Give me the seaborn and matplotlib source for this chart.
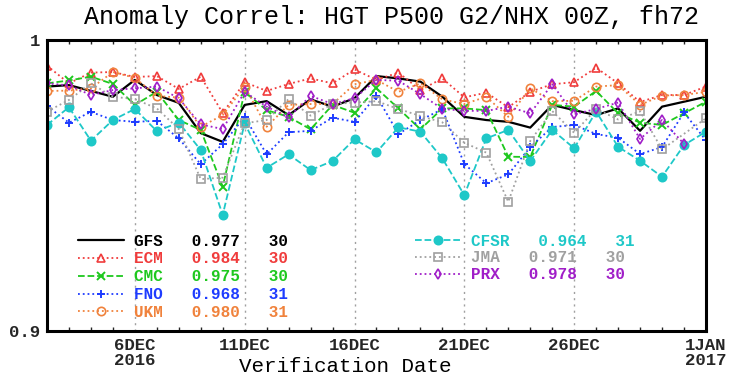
import pandas as pd
import numpy as np
import seaborn as sns
import matplotlib.pyplot as plt
import matplotlib.dates as mdates

nan = np.nan

# verification dates (daily, 00Z)
dates = pd.date_range("2016-12-02", "2017-01-01", freq="D")

gfs = [0.9840, 0.9845, 0.9825, 0.9805, 0.9863, 0.9811, 0.9784, 0.9680, 0.9650, 0.9777,
       0.9790, 0.9742, 0.9796, 0.9771, 0.9800, 0.9876, 0.9868, 0.9857, 0.9805, 0.9736,
       0.9725, 0.9719, 0.9699, 0.9777, 0.9759, 0.9742, 0.9765, 0.9688, 0.9771, 0.9788,
       0.9805]
ecm = [0.9912, 0.9851, 0.9888, 0.9890, 0.9873, 0.9876, 0.9832, 0.9874, 0.9749, 0.9855,
       0.9825, 0.9849, 0.9868, 0.9851, 0.9899, 0.9863, 0.9888, 0.9828, 0.9868, 0.9803,
       0.9819, 0.9769, 0.9822, 0.9848, 0.9855, 0.9905, 0.9851, 0.9787, 0.9811, 0.9811,
       0.9840]
cmc = [0.9851, 0.9861, 0.9874, 0.9849, 0.9777, 0.9822, 0.9725, 0.9691, 0.9496, 0.9822,
       0.9759, 0.9736, 0.9693, 0.9777, 0.9750, 0.9834, 0.9765, 0.9693, 0.9765, 0.9765,
       0.9759, 0.9599, 0.9598, 0.9777, 0.9771, 0.9825, 0.9748, 0.9716, 0.9708, 0.9748,
       0.9788]
fno = [0.9773, 0.9716, 0.9753, 0.9725, 0.9719, 0.9722, 0.9662, 0.9573, 0.9642, 0.9736,
       0.9607, 0.9683, 0.9688, 0.9733, 0.9719, 0.9808, 0.9677, 0.9725, 0.9762, 0.9574,
       0.9508, 0.9538, 0.9632, 0.9701, 0.9708, 0.9677, 0.9664, 0.9608, 0.9632, 0.9751,
       0.9655]
ukm = [0.9825, 0.9826, 0.9834, 0.9890, 0.9870, 0.9808, 0.9802, 0.9702, 0.9742, 0.9840,
       0.9702, 0.9777, 0.9780, 0.9780, 0.9848, 0.9863, 0.9822, 0.9851, 0.9796, 0.9780,
       0.9805, 0.9736, 0.9834, 0.9790, 0.9791, 0.9840, 0.9845, 0.9777, 0.9809, 0.9811,
       0.9822]
cfsr = [0.9708, 0.9769, 0.9654, 0.9725, 0.9763, 0.9687, 0.9716, 0.9622, 0.9399, 0.9714,
        0.9561, 0.9607, 0.9553, 0.9584, 0.9659, 0.9614, 0.9700, 0.9685, 0.9593, 0.9467,
        0.9662, 0.9691, 0.9584, 0.9691, 0.9628, 0.9754, 0.9633, 0.9585, 0.9530, 0.9639,
        0.9685]
jma = [0.9754, 0.9794, 0.9851, 0.9805, 0.9797, 0.9765, 0.9694, 0.9522, 0.9527, 0.9714,
       0.9725, 0.9797, 0.9740, 0.9780, 0.9785, 0.9790, 0.9763, 0.9739, 0.9717, 0.9647,
       0.9613, 0.9444, 0.9653, 0.9756, 0.9681, 0.9763, 0.9727, 0.9755, 0.9624, nan,
       0.9731]
prx = [0.9851, 0.9844, 0.9811, 0.9828, 0.9834, 0.9840, 0.9800, 0.9710, 0.9694, 0.9822,
       0.9771, 0.9734, 0.9808, 0.9780, 0.9800, 0.9863, 0.9860, 0.9814, 0.9763, 0.9757,
       0.9756, 0.9771, 0.9748, 0.9848, 0.9745, 0.9763, 0.9785, 0.9660, 0.9725, 0.9643,
       nan]

# legend table: name, mean score, number of cases
names = ["GFS", "ECM", "CMC", "FNO", "UKM", "CFSR", "JMA", "PRX"]
means = ["0.977", "0.984", "0.975", "0.968", "0.980", "0.964", "0.971", "0.978"]
counts = ["30", "30", "30", "31", "31", "31", "30", "30"]

tick_dates = pd.to_datetime(["2016-12-06", "2016-12-11", "2016-12-16",
                             "2016-12-21", "2016-12-26", "2017-01-01"])
tick_labels = ["6DEC\n2016", "11DEC", "16DEC", "21DEC", "26DEC", "1JAN\n2017"]

series = [gfs, ecm, cmc, fno, ukm, cfsr, jma, prx]
colors = ["black", "#f03c3c", "#1ec81e", "#1e3cff", "#f0823c", "#1ec8c8", "#a0a0a0", "#a01ec8"]
markers = [None, "^", "x", "+", "o", "o", "s", "d"]
lstyles = ["-", ":", "--", ":", ":", "--", ":", ":"]
filled = [False, False, False, False, False, True, False, False]

sns.set_style("white")
plt.rcParams["font.family"] = ["Liberation Mono", "DejaVu Sans Mono"]

fig = plt.figure(figsize=(7.48, 3.75), dpi=100)
ax = fig.add_axes([0.0628, 0.1173, 0.881, 0.776])

for name, vals, col, mk, ls, fl in zip(names, series, colors, markers, lstyles, filled):
    df = pd.DataFrame({"date": dates, "acc": vals})
    kw = dict(color=col, linestyle=ls, ax=ax, label=name)
    if name == "GFS":
        kw["linewidth"] = 1.6
    else:
        kw["linewidth"] = 1.3
        kw["marker"] = mk
        kw["markersize"] = 6 if mk != "d" else 5.5
        kw["markeredgecolor"] = col
        kw["markeredgewidth"] = 1.4 if mk in ("x", "+") else 1.2
        kw["markerfacecolor"] = col if fl else "none"
    sns.lineplot(data=df, x="date", y="acc", **kw)

ax.set_xlim(pd.Timestamp("2016-12-02"), pd.Timestamp("2017-01-01"))
ax.set_ylim(0.9, 1.0)
ax.set_yticks([0.9, 1.0])
ax.set_yticklabels(["0.9", "1"], fontsize=12.5, fontweight="bold")
ax.set_xticks(tick_dates)
ax.set_xticklabels(tick_labels, fontsize=12.5, fontweight="bold", linespacing=1.0)
ax.xaxis.set_minor_locator(mdates.DayLocator())
ax.tick_params(axis="both", which="major", direction="out", length=4, width=1.2, pad=1)
ax.tick_params(axis="x", which="minor", direction="in", length=3, width=1, top=True, bottom=True)
ax.set_xlabel("")
ax.set_ylabel("")

for d in tick_dates[:-1]:
    ax.axvline(d, color="#a0a0a0", linestyle=(0, (1.5, 3)), linewidth=1, zorder=0)

for s in ax.spines.values():
    s.set_linewidth(2.2)
    s.set_color("black")

handles, _ = ax.get_legend_handles_labels()
labels = [(n + "   ").ljust(6) + m + "   " + c for n, m, c in zip(names, means, counts)]

prop = {"family": "Liberation Mono", "weight": "bold", "size": 11.5}
leg1 = ax.legend(handles[:5], labels[:5], loc="upper left", bbox_to_anchor=(0.047, 0.335),
                 frameon=False, prop=prop, handlelength=2.9, handletextpad=0.6,
                 labelspacing=0.18, borderpad=0, borderaxespad=0, numpoints=1)
for t, c in zip(leg1.get_texts(), colors[:5]):
    t.set_color(c)
ax.add_artist(leg1)
leg2 = ax.legend(handles[5:], labels[5:], loc="upper left", bbox_to_anchor=(0.558, 0.335),
                 frameon=False, prop=prop, handlelength=2.9, handletextpad=0.6,
                 labelspacing=0.12, borderpad=0, borderaxespad=0, numpoints=1)
for t, c in zip(leg2.get_texts(), colors[5:]):
    t.set_color(c)

fig.text(392 / 748, 1 - 17 / 375, "Anomaly Correl: HGT P500 G2/NHX 00Z, fh72",
         ha="center", va="center", fontsize=18, color="black")
fig.text(345 / 748, 1 - 367 / 375, "Verification Date", ha="center", va="center",
         fontsize=15, color="black")

fig.savefig("out.png", dpi=100, facecolor="white")
